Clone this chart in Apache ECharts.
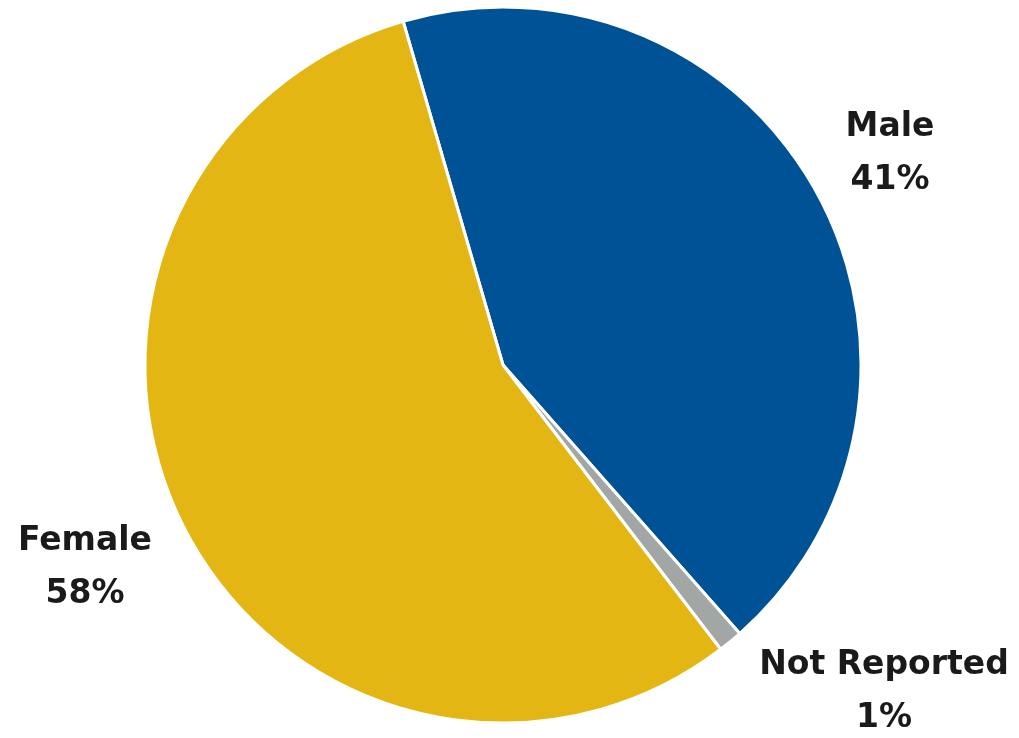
<!DOCTYPE html>
<html>
<head>
<meta charset="utf-8">
<script src="https://cdn.jsdelivr.net/npm/echarts@6/dist/echarts.min.js"></script>
<style>html,body{margin:0;padding:0;background:#fff}#c{width:1019px;height:738px}</style>
</head>
<body>
<div id="c"></div>
<script>
// Categories in drawing order (clockwise from the top-left boundary)
const categories = ['Male', 'Not Reported', 'Female'];
// Slice sizes
const sliceValues = [43, 1.1, 55.9];
// Percent labels as printed on the chart
const labelPercents = ['41%', '1%', '58%'];
const colors = ['#005296', '#A2A7A6', '#E3B613'];
// label anchor points (pixels) for each category
const labelAnchors = [[890, 154], [884, 692], [85, 568]];

const chart = echarts.init(document.getElementById('c'), null, {renderer: 'canvas'});
chart.setOption({
  animation: false,
  series: [{
    type: 'pie',
    center: [503, 365],
    radius: [0, 358],
    startAngle: 106.2,
    clockwise: true,
    itemStyle: {borderColor: '#ffffff', borderWidth: 3},
    label: {
      show: true,
      position: 'outside',
      formatter: p => p.name + '\n' + labelPercents[p.dataIndex],
      fontFamily: 'DejaVu Sans, sans-serif',
      fontWeight: 'bold',
      fontSize: 33,
      lineHeight: 53,
      color: '#1a1a1a',
      align: 'center',
      overflow: 'none',
      width: 400
    },
    labelLine: {show: false},
    labelLayout: p => ({
      x: labelAnchors[p.dataIndex][0],
      y: labelAnchors[p.dataIndex][1],
      align: 'center',
      verticalAlign: 'middle'
    }),
    data: categories.map((c, i) => ({name: c, value: sliceValues[i], itemStyle: {color: colors[i]}}))
  }]
});
</script>
</body>
</html>
